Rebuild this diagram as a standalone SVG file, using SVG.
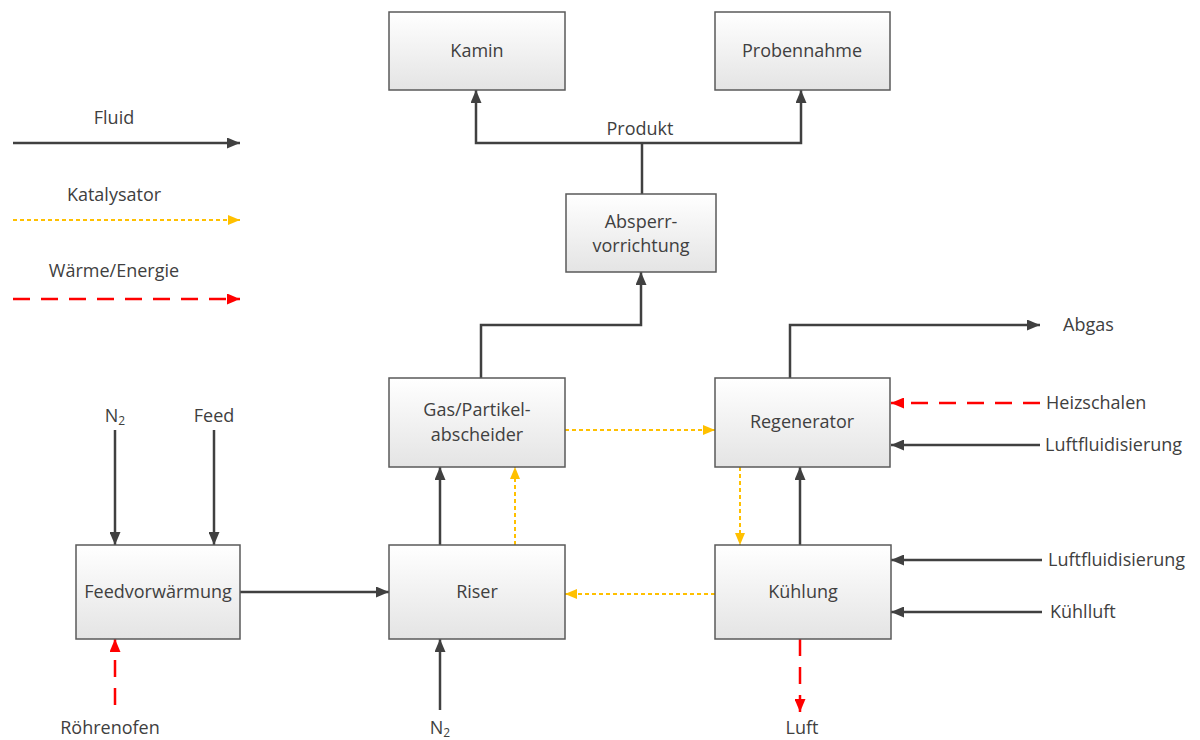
<svg xmlns="http://www.w3.org/2000/svg" width="1200" height="740" viewBox="0 0 1200 740">
<defs>
<linearGradient id="g" x1="0" y1="0" x2="0" y2="1">
<stop offset="0" stop-color="#ffffff"/>
<stop offset="1" stop-color="#e4e4e4"/>
</linearGradient>
<marker id="ak" markerWidth="13" markerHeight="11" refX="13" refY="5.5" orient="auto" markerUnits="userSpaceOnUse"><path d="M0,0 L13,5.5 L0,11 Z" fill="#404040"/></marker>
<marker id="ay" markerWidth="12" markerHeight="10" refX="12" refY="5" orient="auto" markerUnits="userSpaceOnUse"><path d="M0,0 L12,5 L0,10 Z" fill="#FFC000"/></marker>
<marker id="ar" markerWidth="13" markerHeight="11" refX="13" refY="5.5" orient="auto" markerUnits="userSpaceOnUse"><path d="M0,0 L13,5.5 L0,11 Z" fill="#FF0000"/></marker>
</defs>
<style>
.box{fill:url(#g);stroke:#5a5a5a;stroke-width:1.5}
text{font-family:"Open Sans","Noto Sans","Liberation Sans",sans-serif;font-size:18px;fill:#404040}
.c{text-anchor:middle}
.f{fill:none;stroke:#404040;stroke-width:2.5;marker-end:url(#ak)}
.fl{fill:none;stroke:#404040;stroke-width:2.5}
.y{fill:none;stroke:#FFC000;stroke-width:2;stroke-dasharray:4 3;marker-end:url(#ay)}
.r{fill:none;stroke:#FF0000;stroke-width:2.5;stroke-dasharray:17 11;marker-end:url(#ar)}
</style>
<rect width="1200" height="740" fill="#ffffff"/>

<g id="legend">
<text x="114" y="124" class="c">Fluid</text>
<path class="f" d="M13,143 H240"/>
<text x="114" y="201" class="c">Katalysator</text>
<path class="y" d="M13,220 H240"/>
<text x="114" y="277" class="c">Wärme/Energie</text>
<path class="r" d="M13,299 H240"/>
</g>

<g id="connectors">
<path class="fl" d="M642,194 V143"/>
<path class="f" d="M642,143 H476 V90"/>
<path class="f" d="M642,143 H801 V90"/>
<path class="f" d="M481,378 V325 H641 V272"/>
<path class="f" d="M790,378 V325 H1040"/>
<path class="f" d="M440,545 V467"/>
<path class="y" d="M515,545 V467"/>
<path class="y" d="M565,430 H715"/>
<path class="y" d="M740,467 V545"/>
<path class="f" d="M800,545 V467"/>
<path class="y" d="M715,594 H565"/>
<path class="f" d="M240,592 H389"/>
<path class="f" d="M115,430 V545"/>
<path class="f" d="M214,430 V545"/>
<path class="r" d="M115,705 V639"/>
<path class="f" d="M440,710 V639"/>
<path class="r" d="M800,639 V712"/>
<path class="r" d="M1040,403 H891"/>
<path class="f" d="M1040,445 H891"/>
<path class="f" d="M1042,560 H891"/>
<path class="f" d="M1042,612 H891"/>
</g>

<g id="labels">
<text x="640" y="135" class="c">Produkt</text>
<text x="1063" y="331">Abgas</text>
<text x="1046" y="409">Heizschalen</text>
<text x="1045" y="451">Luftfluidisierung</text>
<text x="1048" y="566">Luftfluidisierung</text>
<text x="1050" y="618">Kühlluft</text>
<text x="115" y="422" class="c">N<tspan font-size="12" dy="3">2</tspan></text>
<text x="214" y="422" class="c">Feed</text>
<text x="110" y="734" class="c">Röhrenofen</text>
<text x="440" y="734" class="c">N<tspan font-size="12" dy="3">2</tspan></text>
<text x="802" y="734" class="c">Luft</text>
</g>

<g id="kamin"><rect class="box" x="389" y="12" width="176" height="78"/><text x="477" y="57" class="c">Kamin</text></g>
<g id="probennahme"><rect class="box" x="715" y="12" width="175" height="78"/><text x="802" y="57" class="c">Probennahme</text></g>
<g id="absperrvorrichtung"><rect class="box" x="566" y="194" width="150" height="78"/><text x="641" y="228" class="c">Absperr-</text><text x="641" y="252" class="c">vorrichtung</text></g>
<g id="abscheider"><rect class="box" x="389" y="378" width="176" height="89"/><text x="477" y="416" class="c">Gas/Partikel-</text><text x="477" y="441" class="c">abscheider</text></g>
<g id="regenerator"><rect class="box" x="715" y="378" width="175" height="89"/><text x="802" y="428" class="c">Regenerator</text></g>
<g id="feedvorwaermung"><rect class="box" x="76" y="545" width="164" height="94"/><text x="158" y="598" class="c">Feedvorwärmung</text></g>
<g id="riser"><rect class="box" x="389" y="545" width="176" height="94"/><text x="477" y="598" class="c">Riser</text></g>
<g id="kuehlung"><rect class="box" x="715" y="545" width="176" height="94"/><text x="803" y="598" class="c">Kühlung</text></g>
</svg>
